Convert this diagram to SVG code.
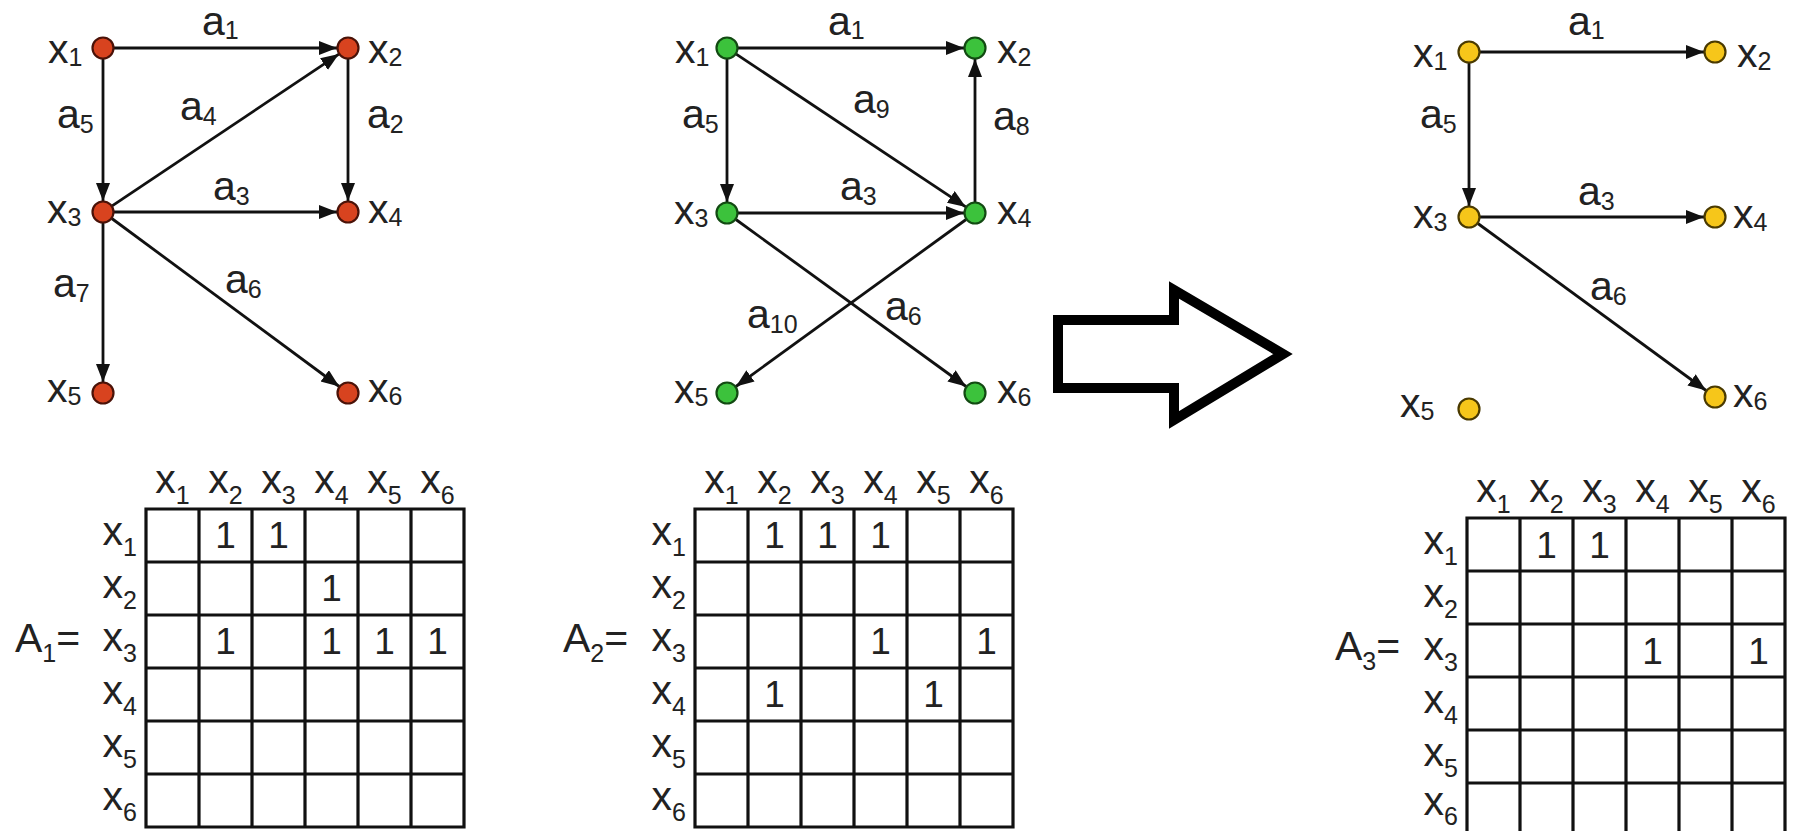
<svg xmlns="http://www.w3.org/2000/svg" width="1793" height="831" viewBox="0 0 1793 831">
<style>
text{font-family:"Liberation Sans",Arial,sans-serif;fill:#222;}
.lb{font-size:41px;}
.s{font-size:25px;}
.v{font-size:37px;text-anchor:middle;}
.hd{font-size:41px;text-anchor:middle;}
.rl{font-size:41px;text-anchor:end;}
.e{stroke:#111;stroke-width:2.8;fill:none;marker-end:url(#ah);}
.r{fill:#d8431f;stroke:#4a1208;stroke-width:2.2;}
.g{fill:#3cc23c;stroke:#124a12;stroke-width:2.2;}
.y{fill:#f6c61a;stroke:#4a3a00;stroke-width:2.2;}
.grid{stroke:#111;stroke-width:3.2;fill:none;}
</style>
<defs>
<marker id="ah" markerUnits="userSpaceOnUse" markerWidth="19" markerHeight="15" refX="18" refY="7" orient="auto">
<path d="M0,0 L18,7 L0,14 z" fill="#111"/>
</marker>
</defs>

<g id="connectors">
<line class="e" x1="114" y1="48" x2="337" y2="48"/>
<line class="e" x1="348" y1="59" x2="348" y2="201"/>
<line class="e" x1="103" y1="59" x2="103" y2="201"/>
<line class="e" x1="112.1" y1="205.9" x2="338.9" y2="54.1"/>
<line class="e" x1="114" y1="212" x2="337" y2="212"/>
<line class="e" x1="103" y1="223" x2="103" y2="382"/>
<line class="e" x1="111.8" y1="218.5" x2="339.2" y2="386.5"/>

<line class="e" x1="738" y1="48" x2="964" y2="48"/>
<line class="e" x1="975" y1="202" x2="975" y2="59"/>
<line class="e" x1="727" y1="59" x2="727" y2="202"/>
<line class="e" x1="736.2" y1="54.1" x2="965.8" y2="206.9"/>
<line class="e" x1="738" y1="213" x2="964" y2="213"/>
<line class="e" x1="735.9" y1="219.5" x2="966.1" y2="386.5"/>
<line class="e" x1="966.1" y1="219.5" x2="735.9" y2="386.5"/>

<line class="e" x1="1480" y1="52" x2="1704" y2="52"/>
<line class="e" x1="1469" y1="63" x2="1469" y2="206"/>
<line class="e" x1="1480" y1="217" x2="1704" y2="217"/>
<line class="e" x1="1477.9" y1="223.5" x2="1706.1" y2="390.5"/>
</g>

<g id="edge-labels">
<text class="lb" x="202" y="35">a<tspan class="s" dy="4">1</tspan></text>
<text class="lb" x="57" y="128">a<tspan class="s" dy="5">5</tspan></text>
<text class="lb" x="180" y="120">a<tspan class="s" dy="5">4</tspan></text>
<text class="lb" x="367" y="128">a<tspan class="s" dy="5">2</tspan></text>
<text class="lb" x="213" y="200">a<tspan class="s" dy="5">3</tspan></text>
<text class="lb" x="53" y="297">a<tspan class="s" dy="5">7</tspan></text>
<text class="lb" x="225" y="293">a<tspan class="s" dy="5">6</tspan></text>

<text class="lb" x="828" y="35">a<tspan class="s" dy="4">1</tspan></text>
<text class="lb" x="682" y="128">a<tspan class="s" dy="5">5</tspan></text>
<text class="lb" x="853" y="113">a<tspan class="s" dy="5">9</tspan></text>
<text class="lb" x="993" y="130">a<tspan class="s" dy="5">8</tspan></text>
<text class="lb" x="840" y="200">a<tspan class="s" dy="5">3</tspan></text>
<text class="lb" x="885" y="320">a<tspan class="s" dy="5">6</tspan></text>
<text class="lb" x="747" y="328">a<tspan class="s" dy="5">10</tspan></text>

<text class="lb" x="1568" y="35">a<tspan class="s" dy="4">1</tspan></text>
<text class="lb" x="1420" y="128">a<tspan class="s" dy="5">5</tspan></text>
<text class="lb" x="1578" y="205">a<tspan class="s" dy="5">3</tspan></text>
<text class="lb" x="1590" y="300">a<tspan class="s" dy="5">6</tspan></text>
</g>

<g id="g1-x1"><circle class="r" cx="103" cy="48" r="10.5"/><text class="lb" x="48" y="63">x<tspan class="s" dy="3">1</tspan></text></g>
<g id="g1-x2"><circle class="r" cx="348" cy="48" r="10.5"/><text class="lb" x="368" y="63">x<tspan class="s" dy="3">2</tspan></text></g>
<g id="g1-x3"><circle class="r" cx="103" cy="212" r="10.5"/><text class="lb" x="47" y="223">x<tspan class="s" dy="3">3</tspan></text></g>
<g id="g1-x4"><circle class="r" cx="348" cy="212" r="10.5"/><text class="lb" x="368" y="223">x<tspan class="s" dy="3">4</tspan></text></g>
<g id="g1-x5"><circle class="r" cx="103" cy="393" r="10.5"/><text class="lb" x="47" y="402">x<tspan class="s" dy="3">5</tspan></text></g>
<g id="g1-x6"><circle class="r" cx="348" cy="393" r="10.5"/><text class="lb" x="368" y="402">x<tspan class="s" dy="3">6</tspan></text></g>

<g id="g2-x1"><circle class="g" cx="727" cy="48" r="10.5"/><text class="lb" x="675" y="63">x<tspan class="s" dy="3">1</tspan></text></g>
<g id="g2-x2"><circle class="g" cx="975" cy="48" r="10.5"/><text class="lb" x="997" y="63">x<tspan class="s" dy="3">2</tspan></text></g>
<g id="g2-x3"><circle class="g" cx="727" cy="213" r="10.5"/><text class="lb" x="674" y="224">x<tspan class="s" dy="3">3</tspan></text></g>
<g id="g2-x4"><circle class="g" cx="975" cy="213" r="10.5"/><text class="lb" x="997" y="224">x<tspan class="s" dy="3">4</tspan></text></g>
<g id="g2-x5"><circle class="g" cx="727" cy="393" r="10.5"/><text class="lb" x="674" y="403">x<tspan class="s" dy="3">5</tspan></text></g>
<g id="g2-x6"><circle class="g" cx="975" cy="393" r="10.5"/><text class="lb" x="997" y="403">x<tspan class="s" dy="3">6</tspan></text></g>

<g id="big-arrow">
<polygon points="1058,320 1174,320 1174,290 1283,354 1174,420 1174,388 1058,388" fill="none" stroke="#000" stroke-width="10" stroke-linejoin="miter"/>
</g>

<g id="g3-x1"><circle class="y" cx="1469" cy="52" r="10.5"/><text class="lb" x="1413" y="67">x<tspan class="s" dy="3">1</tspan></text></g>
<g id="g3-x2"><circle class="y" cx="1715" cy="52" r="10.5"/><text class="lb" x="1737" y="67">x<tspan class="s" dy="3">2</tspan></text></g>
<g id="g3-x3"><circle class="y" cx="1469" cy="217" r="10.5"/><text class="lb" x="1413" y="228">x<tspan class="s" dy="3">3</tspan></text></g>
<g id="g3-x4"><circle class="y" cx="1715" cy="217" r="10.5"/><text class="lb" x="1733" y="228">x<tspan class="s" dy="3">4</tspan></text></g>
<g id="g3-x5"><circle class="y" cx="1469" cy="409" r="10.5"/><text class="lb" x="1400" y="417">x<tspan class="s" dy="3">5</tspan></text></g>
<g id="g3-x6"><circle class="y" cx="1715" cy="397" r="10.5"/><text class="lb" x="1733" y="407">x<tspan class="s" dy="3">6</tspan></text></g>

<g id="matrix-A1">
<text class="lb" x="15" y="652">A<tspan class="s" dy="10">1</tspan><tspan class="lb" dy="-10">=</tspan></text>
<path class="grid" d="M146,509H464V827H146Z M199,509V827 M252,509V827 M305,509V827 M358,509V827 M411,509V827 M146,562H464 M146,615H464 M146,668H464 M146,721H464 M146,774H464"/>
<text class="hd" x="172.5" y="493">x<tspan class="s" dy="11">1</tspan></text>
<text class="hd" x="225.5" y="493">x<tspan class="s" dy="11">2</tspan></text>
<text class="hd" x="278.5" y="493">x<tspan class="s" dy="11">3</tspan></text>
<text class="hd" x="331.5" y="493">x<tspan class="s" dy="11">4</tspan></text>
<text class="hd" x="384.5" y="493">x<tspan class="s" dy="11">5</tspan></text>
<text class="hd" x="437.5" y="493">x<tspan class="s" dy="11">6</tspan></text>
<text class="rl" x="137" y="545">x<tspan class="s" dy="11">1</tspan></text>
<text class="rl" x="137" y="598">x<tspan class="s" dy="11">2</tspan></text>
<text class="rl" x="137" y="651">x<tspan class="s" dy="11">3</tspan></text>
<text class="rl" x="137" y="704">x<tspan class="s" dy="11">4</tspan></text>
<text class="rl" x="137" y="757">x<tspan class="s" dy="11">5</tspan></text>
<text class="rl" x="137" y="810">x<tspan class="s" dy="11">6</tspan></text>
<text class="v" x="225.5" y="548">1</text>
<text class="v" x="278.5" y="548">1</text>
<text class="v" x="331.5" y="601">1</text>
<text class="v" x="225.5" y="654">1</text>
<text class="v" x="331.5" y="654">1</text>
<text class="v" x="384.5" y="654">1</text>
<text class="v" x="437.5" y="654">1</text>
</g>

<g id="matrix-A2">
<text class="lb" x="563" y="652">A<tspan class="s" dy="10">2</tspan><tspan class="lb" dy="-10">=</tspan></text>
<path class="grid" d="M695,509H1013V827H695Z M748,509V827 M801,509V827 M854,509V827 M907,509V827 M960,509V827 M695,562H1013 M695,615H1013 M695,668H1013 M695,721H1013 M695,774H1013"/>
<text class="hd" x="721.5" y="493">x<tspan class="s" dy="11">1</tspan></text>
<text class="hd" x="774.5" y="493">x<tspan class="s" dy="11">2</tspan></text>
<text class="hd" x="827.5" y="493">x<tspan class="s" dy="11">3</tspan></text>
<text class="hd" x="880.5" y="493">x<tspan class="s" dy="11">4</tspan></text>
<text class="hd" x="933.5" y="493">x<tspan class="s" dy="11">5</tspan></text>
<text class="hd" x="986.5" y="493">x<tspan class="s" dy="11">6</tspan></text>
<text class="rl" x="686" y="545">x<tspan class="s" dy="11">1</tspan></text>
<text class="rl" x="686" y="598">x<tspan class="s" dy="11">2</tspan></text>
<text class="rl" x="686" y="651">x<tspan class="s" dy="11">3</tspan></text>
<text class="rl" x="686" y="704">x<tspan class="s" dy="11">4</tspan></text>
<text class="rl" x="686" y="757">x<tspan class="s" dy="11">5</tspan></text>
<text class="rl" x="686" y="810">x<tspan class="s" dy="11">6</tspan></text>
<text class="v" x="774.5" y="548">1</text>
<text class="v" x="827.5" y="548">1</text>
<text class="v" x="880.5" y="548">1</text>
<text class="v" x="880.5" y="654">1</text>
<text class="v" x="986.5" y="654">1</text>
<text class="v" x="774.5" y="707">1</text>
<text class="v" x="933.5" y="707">1</text>
</g>

<g id="matrix-A3">
<text class="lb" x="1335" y="660">A<tspan class="s" dy="10">3</tspan><tspan class="lb" dy="-10">=</tspan></text>
<path class="grid" d="M1467,518H1785V836H1467Z M1520,518V836 M1573,518V836 M1626,518V836 M1679,518V836 M1732,518V836 M1467,571H1785 M1467,624H1785 M1467,677H1785 M1467,730H1785 M1467,783H1785"/>
<text class="hd" x="1493.5" y="502">x<tspan class="s" dy="11">1</tspan></text>
<text class="hd" x="1546.5" y="502">x<tspan class="s" dy="11">2</tspan></text>
<text class="hd" x="1599.5" y="502">x<tspan class="s" dy="11">3</tspan></text>
<text class="hd" x="1652.5" y="502">x<tspan class="s" dy="11">4</tspan></text>
<text class="hd" x="1705.5" y="502">x<tspan class="s" dy="11">5</tspan></text>
<text class="hd" x="1758.5" y="502">x<tspan class="s" dy="11">6</tspan></text>
<text class="rl" x="1458" y="554">x<tspan class="s" dy="11">1</tspan></text>
<text class="rl" x="1458" y="607">x<tspan class="s" dy="11">2</tspan></text>
<text class="rl" x="1458" y="660">x<tspan class="s" dy="11">3</tspan></text>
<text class="rl" x="1458" y="713">x<tspan class="s" dy="11">4</tspan></text>
<text class="rl" x="1458" y="766">x<tspan class="s" dy="11">5</tspan></text>
<text class="rl" x="1458" y="815">x<tspan class="s" dy="10">6</tspan></text>
<text class="v" x="1546.5" y="558">1</text>
<text class="v" x="1599.5" y="558">1</text>
<text class="v" x="1652.5" y="664">1</text>
<text class="v" x="1758.5" y="664">1</text>
</g>
</svg>
